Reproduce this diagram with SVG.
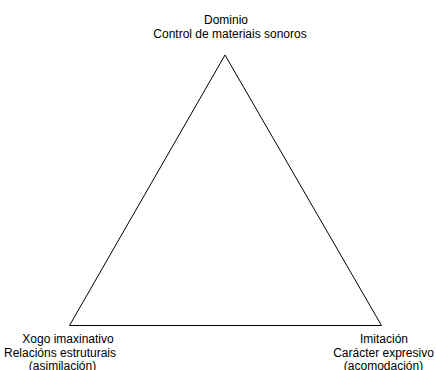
<svg xmlns="http://www.w3.org/2000/svg" width="436" height="370" viewBox="0 0 436 370">
  <style>
    text { font-family: "Liberation Sans", Arial, sans-serif; font-size: 12px; fill: #000; text-anchor: middle; }
    .edge { fill: none; stroke: #000; stroke-width: 1; }
  </style>
  <rect width="436" height="370" fill="#fff"/>
  <g id="connectors">
    <polygon class="edge" points="225,55 69.5,325.5 381.5,325.5"/>
  </g>
  <g id="node-dominio">
    <text x="226" y="24">Dominio</text>
    <text x="230" y="38">Control de materiais sonoros</text>
  </g>
  <g id="node-xogo">
    <text x="68" y="343">Xogo imaxinativo</text>
    <text x="60" y="356.5">Relacións estruturais</text>
    <text x="62.5" y="370">(asimilación)</text>
  </g>
  <g id="node-imitacion">
    <text x="384" y="343">Imitación</text>
    <text x="383.5" y="356.5">Carácter expresivo</text>
    <text x="383.5" y="370">(acomodación)</text>
  </g>
</svg>
